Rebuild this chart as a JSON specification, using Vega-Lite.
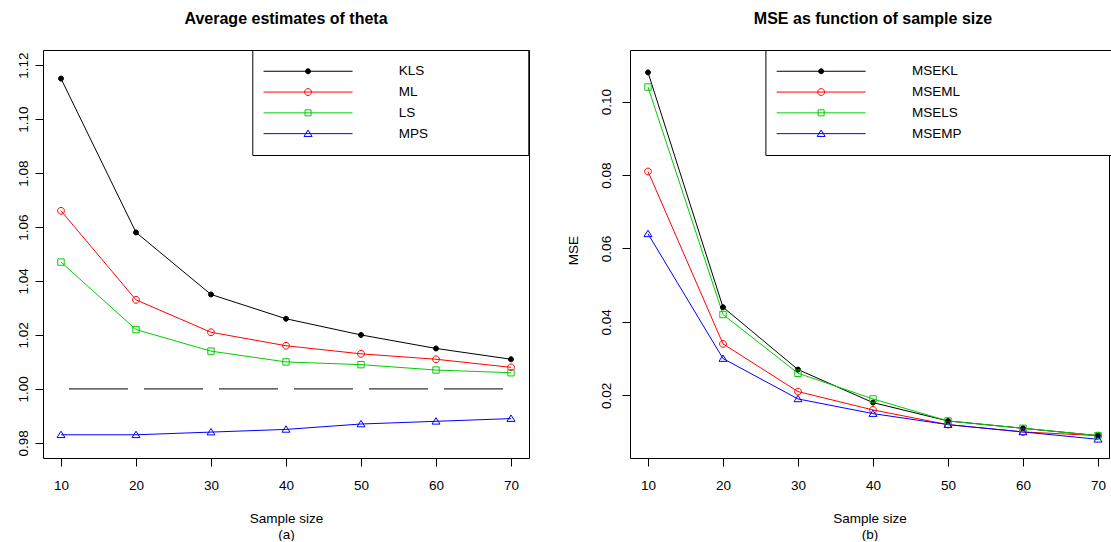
{
  "$schema": "https://vega.github.io/schema/vega-lite/v6.json",
  "padding": {"left": 16, "top": 10, "right": 0, "bottom": 0},
  "spacing": 35,
  "background": "white",
  "config": {
    "font": "Liberation Sans",
    "view": {"stroke": "black", "strokeWidth": 1},
    "axis": {
      "domain": false, "grid": false, "tickColor": "black", "tickSize": 8, "tickWidth": 1,
      "labelColor": "black", "labelFontSize": 13.5, "labelFont": "Liberation Sans",
      "labelOverlap": false, "labelFlush": false,
      "titleFont": "Liberation Sans", "titleFontSize": 13.5, "titleFontWeight": "normal", "titleColor": "black"
    },
    "axisX": {"labelAngle": 0, "labelPadding": 12, "titleBaseline": "top", "titleY": 53, "titleLineHeight": 16},
    "axisY": {"labelAngle": -90, "labelAlign": "center", "labelBaseline": "bottom"},
    "title": {"font": "Liberation Sans", "fontSize": 16, "fontWeight": "bold", "color": "black", "baseline": "alphabetic", "offset": 22.5, "anchor": "middle"},
    "legend": {
      "orient": "none", "legendY": 0, "title": null, "padding": 14.5,
      "strokeColor": "black", "fillColor": "white", "symbolSize": 100, "symbolStrokeWidth": 1,
      "symbolOpacity": 1, "labelFont": "Liberation Sans", "labelFontSize": 13.5, "labelColor": "black",
      "labelOffset": 118.5, "labelLimit": 400, "rowPadding": 5.8
    }
  },
  "datasets": {
    "theta": [
      {"n": 10, "series": "KLS", "value": 1.115},
      {"n": 20, "series": "KLS", "value": 1.058},
      {"n": 30, "series": "KLS", "value": 1.035},
      {"n": 40, "series": "KLS", "value": 1.026},
      {"n": 50, "series": "KLS", "value": 1.020},
      {"n": 60, "series": "KLS", "value": 1.015},
      {"n": 70, "series": "KLS", "value": 1.011},
      {"n": 10, "series": "ML", "value": 1.066},
      {"n": 20, "series": "ML", "value": 1.033},
      {"n": 30, "series": "ML", "value": 1.021},
      {"n": 40, "series": "ML", "value": 1.016},
      {"n": 50, "series": "ML", "value": 1.013},
      {"n": 60, "series": "ML", "value": 1.011},
      {"n": 70, "series": "ML", "value": 1.008},
      {"n": 10, "series": "LS", "value": 1.047},
      {"n": 20, "series": "LS", "value": 1.022},
      {"n": 30, "series": "LS", "value": 1.014},
      {"n": 40, "series": "LS", "value": 1.010},
      {"n": 50, "series": "LS", "value": 1.009},
      {"n": 60, "series": "LS", "value": 1.007},
      {"n": 70, "series": "LS", "value": 1.006},
      {"n": 10, "series": "MPS", "value": 0.983},
      {"n": 20, "series": "MPS", "value": 0.983},
      {"n": 30, "series": "MPS", "value": 0.984},
      {"n": 40, "series": "MPS", "value": 0.985},
      {"n": 50, "series": "MPS", "value": 0.987},
      {"n": 60, "series": "MPS", "value": 0.988},
      {"n": 70, "series": "MPS", "value": 0.989}
    ],
    "ref": [
      {"n": 10, "value": 1}, {"n": 20, "value": 1}, {"n": 30, "value": 1}, {"n": 40, "value": 1},
      {"n": 50, "value": 1}, {"n": 60, "value": 1}, {"n": 70, "value": 1}
    ],
    "mse": [
      {"n": 10, "series": "MSEKL", "value": 0.108},
      {"n": 20, "series": "MSEKL", "value": 0.044},
      {"n": 30, "series": "MSEKL", "value": 0.027},
      {"n": 40, "series": "MSEKL", "value": 0.018},
      {"n": 50, "series": "MSEKL", "value": 0.013},
      {"n": 60, "series": "MSEKL", "value": 0.011},
      {"n": 70, "series": "MSEKL", "value": 0.009},
      {"n": 10, "series": "MSEML", "value": 0.081},
      {"n": 20, "series": "MSEML", "value": 0.034},
      {"n": 30, "series": "MSEML", "value": 0.021},
      {"n": 40, "series": "MSEML", "value": 0.016},
      {"n": 50, "series": "MSEML", "value": 0.012},
      {"n": 60, "series": "MSEML", "value": 0.010},
      {"n": 70, "series": "MSEML", "value": 0.009},
      {"n": 10, "series": "MSELS", "value": 0.104},
      {"n": 20, "series": "MSELS", "value": 0.042},
      {"n": 30, "series": "MSELS", "value": 0.026},
      {"n": 40, "series": "MSELS", "value": 0.019},
      {"n": 50, "series": "MSELS", "value": 0.013},
      {"n": 60, "series": "MSELS", "value": 0.011},
      {"n": 70, "series": "MSELS", "value": 0.009},
      {"n": 10, "series": "MSEMP", "value": 0.064},
      {"n": 20, "series": "MSEMP", "value": 0.030},
      {"n": 30, "series": "MSEMP", "value": 0.019},
      {"n": 40, "series": "MSEMP", "value": 0.015},
      {"n": 50, "series": "MSEMP", "value": 0.012},
      {"n": 60, "series": "MSEMP", "value": 0.010},
      {"n": 70, "series": "MSEMP", "value": 0.008}
    ]
  },
  "hconcat": [
    {
      "width": 486, "height": 408,
      "title": {"text": "Average estimates of theta"},
      "encoding": {
        "x": {"field": "n", "type": "quantitative",
          "scale": {"domain": [7.6, 72.4], "nice": false, "zero": false},
          "axis": {"values": [10, 20, 30, 40, 50, 60, 70], "title": ["Sample size", "(a)"]}},
        "y": {"field": "value", "type": "quantitative",
          "scale": {"domain": [0.9744, 1.1256], "nice": false, "zero": false},
          "axis": {"values": [0.98, 1.0, 1.02, 1.04, 1.06, 1.08, 1.1, 1.12], "format": ".2f", "title": null, "labelPadding": 4.2}}
      },
      "layer": [
        {
          "data": {"name": "ref"},
          "mark": {"type": "line", "stroke": "black", "strokeWidth": 1, "strokeDash": [59, 16], "strokeDashOffset": 67}
        },
        {
          "data": {"name": "theta"},
          "mark": {"type": "line", "strokeWidth": 1},
          "encoding": {
            "stroke": {"field": "series", "type": "nominal",
              "scale": {"domain": ["KLS", "ML", "LS", "MPS"], "range": ["#000000", "#FF0000", "#00CD00", "#0000FF"]},
              "legend": null}
          }
        },
        {
          "data": {"name": "theta"},
          "mark": {"type": "point", "filled": true, "opacity": 1, "strokeWidth": 1, "size": 100},
          "encoding": {
            "shape": {"field": "series", "type": "nominal",
              "scale": {"domain": ["KLS", "ML", "LS", "MPS"], "range": [
                "M0.5,0A0.5,0.5 0 1,1 -0.5,0A0.5,0.5 0 1,1 0.5,0Z",
                "M0.68,0A0.68,0.68 0 1,1 -0.68,0A0.68,0.68 0 1,1 0.68,0Z",
                "M-0.64,-0.64H0.64V0.64H-0.64Z",
                "M0,-0.72L0.8,0.56L-0.8,0.56Z"]},
              "legend": null},
            "stroke": {"field": "series", "type": "nominal",
              "scale": {"domain": ["KLS", "ML", "LS", "MPS"], "range": ["#000000", "#FF0000", "#00CD00", "#0000FF"]},
              "legend": null},
            "fill": {"field": "series", "type": "nominal",
              "scale": {"domain": ["KLS", "ML", "LS", "MPS"], "range": ["#000000", "transparent", "transparent", "transparent"]},
              "legend": null}
          }
        },
        {
          "data": {"name": "theta"},
          "transform": [{"filter": "false"}],
          "mark": {"type": "point", "filled": true, "opacity": 1, "strokeWidth": 1, "size": 100},
          "encoding": {
            "shape": {"field": "series", "type": "nominal",
              "scale": {"domain": ["KLS", "ML", "LS", "MPS"], "range": [
                "M-2,0H15.8M7.4,0A0.5,0.5 0 1,1 6.4,0A0.5,0.5 0 1,1 7.4,0ZM47.5,0",
                "M-2,0H15.8M7.58,0A0.68,0.68 0 1,1 6.22,0A0.68,0.68 0 1,1 7.58,0ZM47.5,0",
                "M-2,0H15.8M6.3,-0.6H7.5V0.6H6.3ZM47.5,0",
                "M-2,0H15.8M6.9,-0.72L7.7,0.56L6.1,0.56ZM47.5,0"]},
              "legend": {"legendX": 209.3}},
            "stroke": {"field": "series", "type": "nominal",
              "scale": {"domain": ["KLS", "ML", "LS", "MPS"], "range": ["#000000", "#FF0000", "#00CD00", "#0000FF"]},
              "legend": {"legendX": 209.3}},
            "fill": {"field": "series", "type": "nominal",
              "scale": {"domain": ["KLS", "ML", "LS", "MPS"], "range": ["#000000", "transparent", "transparent", "transparent"]},
              "legend": {"legendX": 209.3}}
          }
        }
      ],
      "resolve": {"scale": {"shape": "independent", "stroke": "independent", "fill": "independent"}}
    },
    {
      "width": 479, "height": 408,
      "title": {"text": "MSE as function of sample size", "dx": 3.5},
      "encoding": {
        "x": {"field": "n", "type": "quantitative",
          "scale": {"domain": [7.6, 71.467], "nice": false, "zero": false},
          "axis": {"values": [10, 20, 30, 40, 50, 60, 70], "title": ["Sample size", "(b)"]}},
        "y": {"field": "value", "type": "quantitative",
          "scale": {"domain": [0.0029, 0.1141], "nice": false, "zero": false},
          "axis": {"values": [0.02, 0.04, 0.06, 0.08, 0.1], "format": ".2f", "title": "MSE", "labelPadding": 8.5,
            "titleX": -50, "titleY": 200, "titleAngle": -90, "titleAlign": "center", "titleBaseline": "bottom"}}
      },
      "layer": [
        {
          "data": {"name": "mse"},
          "mark": {"type": "line", "strokeWidth": 1},
          "encoding": {
            "stroke": {"field": "series", "type": "nominal",
              "scale": {"domain": ["MSEKL", "MSEML", "MSELS", "MSEMP"], "range": ["#000000", "#FF0000", "#00CD00", "#0000FF"]},
              "legend": null}
          }
        },
        {
          "data": {"name": "mse"},
          "mark": {"type": "point", "filled": true, "opacity": 1, "strokeWidth": 1, "size": 100},
          "encoding": {
            "shape": {"field": "series", "type": "nominal",
              "scale": {"domain": ["MSEKL", "MSEML", "MSELS", "MSEMP"], "range": [
                "M0.5,0A0.5,0.5 0 1,1 -0.5,0A0.5,0.5 0 1,1 0.5,0Z",
                "M0.68,0A0.68,0.68 0 1,1 -0.68,0A0.68,0.68 0 1,1 0.68,0Z",
                "M-0.64,-0.64H0.64V0.64H-0.64Z",
                "M0,-0.72L0.8,0.56L-0.8,0.56Z"]},
              "legend": null},
            "stroke": {"field": "series", "type": "nominal",
              "scale": {"domain": ["MSEKL", "MSEML", "MSELS", "MSEMP"], "range": ["#000000", "#FF0000", "#00CD00", "#0000FF"]},
              "legend": null},
            "fill": {"field": "series", "type": "nominal",
              "scale": {"domain": ["MSEKL", "MSEML", "MSELS", "MSEMP"], "range": ["#000000", "transparent", "transparent", "transparent"]},
              "legend": null}
          }
        },
        {
          "data": {"name": "mse"},
          "transform": [{"filter": "false"}],
          "mark": {"type": "point", "filled": true, "opacity": 1, "strokeWidth": 1, "size": 100},
          "encoding": {
            "shape": {"field": "series", "type": "nominal",
              "scale": {"domain": ["MSEKL", "MSEML", "MSELS", "MSEMP"], "range": [
                "M-2,0H15.8M7.4,0A0.5,0.5 0 1,1 6.4,0A0.5,0.5 0 1,1 7.4,0ZM61.8,0",
                "M-2,0H15.8M7.58,0A0.68,0.68 0 1,1 6.22,0A0.68,0.68 0 1,1 7.58,0ZM61.8,0",
                "M-2,0H15.8M6.3,-0.6H7.5V0.6H6.3ZM61.8,0",
                "M-2,0H15.8M6.9,-0.72L7.7,0.56L6.1,0.56ZM61.8,0"]},
              "legend": {"legendX": 135.4}},
            "stroke": {"field": "series", "type": "nominal",
              "scale": {"domain": ["MSEKL", "MSEML", "MSELS", "MSEMP"], "range": ["#000000", "#FF0000", "#00CD00", "#0000FF"]},
              "legend": {"legendX": 135.4}},
            "fill": {"field": "series", "type": "nominal",
              "scale": {"domain": ["MSEKL", "MSEML", "MSELS", "MSEMP"], "range": ["#000000", "transparent", "transparent", "transparent"]},
              "legend": {"legendX": 135.4}}
          }
        }
      ],
      "resolve": {"scale": {"shape": "independent", "stroke": "independent", "fill": "independent"}}
    }
  ]
}
